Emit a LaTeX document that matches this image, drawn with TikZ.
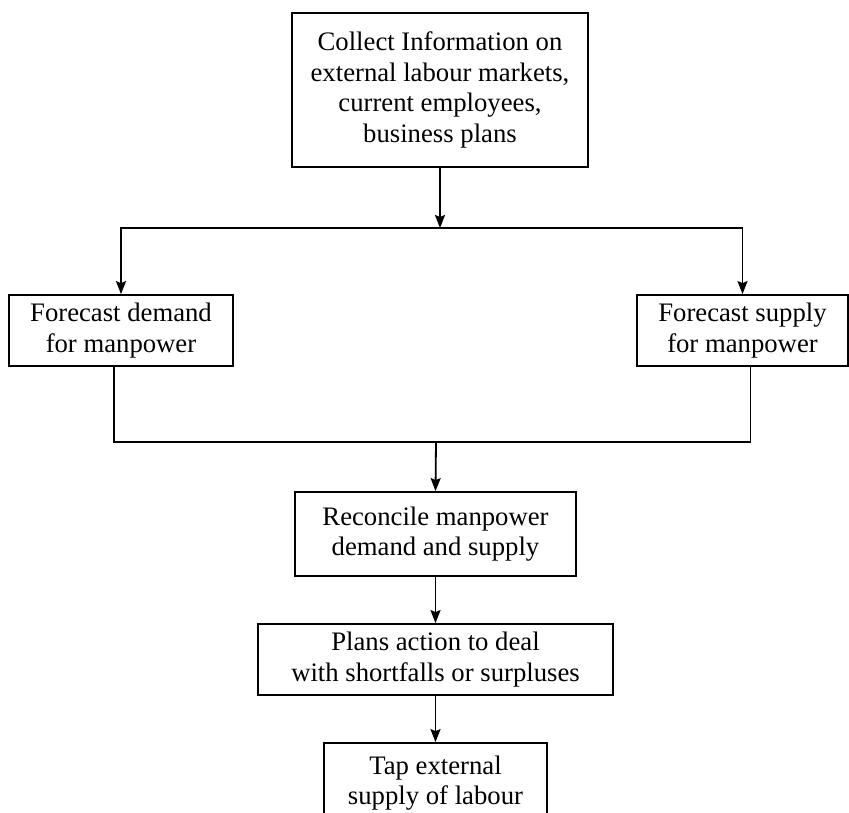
\documentclass[tikz,border=0pt]{standalone}
\usepackage{fontspec}
\setmainfont{Liberation Serif}
\usetikzlibrary{arrows.meta}
\begin{document}
\begin{tikzpicture}[x=1pt,y=-1pt,
  box/.style={draw, line width=1.8pt, align=center, inner sep=0pt,
    font=\fontsize{26.7}{30.5}\selectfont},
  arr/.style={line width=1.8pt, -{Stealth[length=13pt,width=10pt,inset=2pt]}},
  ln/.style={line width=1.8pt}]
\useasboundingbox (0,0) rectangle (849,812);
\node[box, minimum width=296pt, minimum height=154pt] (top) at (440,90)
  {Collect Information on\\external labour markets,\\current employees,\\business plans};
\node[box, minimum width=224pt, minimum height=71pt] (left) at (121,330.5)
  {Forecast demand\\for manpower};
\node[box, minimum width=211pt, minimum height=71pt] (right) at (742.5,330.5)
  {Forecast supply\\for manpower};
\node[box, minimum width=281pt, minimum height=84pt] (rec) at (435.5,534)
  {Reconcile manpower\\demand and supply};
\node[box, minimum width=355pt, minimum height=71pt] (plan) at (435.5,659.5)
  {Plans action to deal\\with shortfalls or surpluses};
\node[box, minimum width=223pt, minimum height=80pt] (tap) at (435.5,783)
  {Tap external\\supply of labour};
\coordinate (j1) at (440,228);
\coordinate (j2) at (436,442);
\draw[arr] (top.south) -- (j1);
\draw[ln, {Stealth[length=13pt,width=10pt,inset=2pt]}-{Stealth[length=13pt,width=10pt,inset=2pt]}]
  (left.north) |- (j1) -| (right.north);
\draw[ln] ([xshift=-7pt]left.south) |- (j2) -| ([xshift=8pt]right.south);
\draw[arr] (j2) -- (rec.north);
\draw[arr] (rec.south) -- (plan.north);
\draw[arr] (plan.south) -- (tap.north);
\end{tikzpicture}
\end{document}
